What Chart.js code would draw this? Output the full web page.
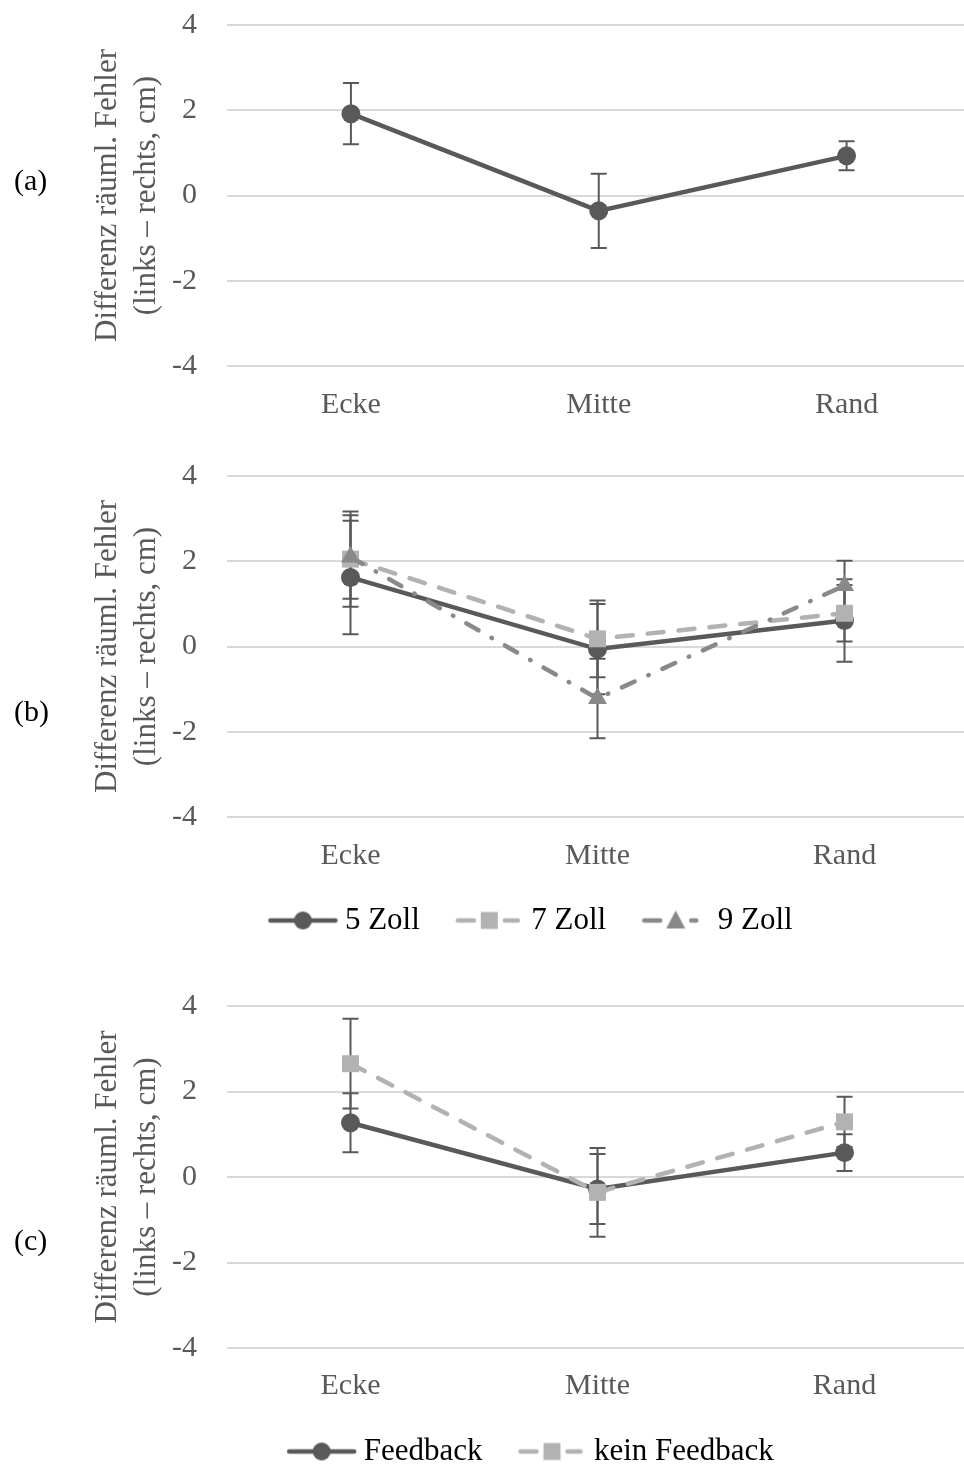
<!DOCTYPE html>
<html lang="de">
<head>
<meta charset="utf-8">
<title>Differenz räumlicher Fehler</title>
<script src="https://cdn.jsdelivr.net/npm/chart.js@4/dist/chart.umd.min.js"></script>
<style>
  html, body { margin: 0; padding: 0; background: #fff; width: 964px; height: 1466px; overflow: hidden; }
  canvas { position: absolute; left: 0; }
  .tag { position: absolute; left: 14px; font: 30px "Liberation Serif", "Times New Roman", serif; color: #000; line-height: 1; }
</style>
</head>
<body>
<canvas id="chartA" width="980" height="430" style="top:0"></canvas>
<canvas id="chartB" width="980" height="510" style="top:440px"></canvas>
<canvas id="chartC" width="980" height="510" style="top:970px"></canvas>
<div class="tag" style="top:165px">(a)</div>
<div class="tag" style="top:696px">(b)</div>
<div class="tag" style="top:1225px">(c)</div>
<script>
const categories = ["Ecke", "Mitte", "Rand"];
const yTicks = [-4, -2, 0, 2, 4];
const yTitle = ["Differenz räuml. Fehler", "(links – rechts, cm)"];

// (a) all
const allMean = [1.92, -0.36, 0.93];
const allErr = [0.72, 0.87, 0.34];

// (b) screen size
const zoll5Mean = [1.62, -0.06, 0.61];
const zoll5Err = [1.33, 1.06, 0.97];
const zoll7Mean = [2.05, 0.18, 0.78];
const zoll7Err = [1.12, 0.90, 0.66];
const zoll9Mean = [2.10, -1.22, 1.43];
const zoll9Err = [0.98, 0.93, 0.58];

// (c) feedback
const feedbackMean = [1.27, -0.28, 0.57];
const feedbackErr = [0.69, 0.82, 0.43];
const keinFeedbackMean = [2.65, -0.36, 1.29];
const keinFeedbackErr = [1.05, 1.04, 0.59];

const DARK = "#595959", LIGHT = "#b2b2b2", MID = "#898989";
const SOLID = [], DASH = [16, 15], DASHDOT = [14, 15, 0.5, 15];

Chart.defaults.font.family = '"Liberation Serif", "Times New Roman", serif';
Chart.defaults.font.size = 30;
Chart.defaults.color = DARK;

// little line+marker picture for the legend (a bit of empty room on the left)
function legendSample(color, dash, style) {
    const c = document.createElement("canvas");
    c.width = 80; c.height = 30;
    const g = c.getContext("2d");
    g.translate(8, 0);
    g.strokeStyle = color;
    g.lineWidth = 4.5;
    g.lineCap = "round";
    g.beginPath();
    if (dash.length) {
        // short dash on each side of the marker
        g.moveTo(4, 15); g.lineTo(20, 15);
        g.moveTo(51, 15); g.lineTo(dash.length > 2 ? 56 : 64, 15);
    } else {
        g.moveTo(3, 15); g.lineTo(68, 15);
    }
    g.stroke();
    g.fillStyle = color;
    g.beginPath();
    if (style === "circle") g.arc(35.5, 15, 9, 0, Math.PI * 2);
    else if (style === "rect") g.rect(27, 6.5, 17, 17);
    else { g.moveTo(35.5, 5); g.lineTo(45, 23); g.lineTo(26, 23); g.closePath(); }
    g.fill();
    return c;
}

function series(label, mean, err, color, dash, style, order) {
    return {
        label: label,
        data: mean,
        errors: err,
        borderColor: color,
        backgroundColor: color,
        borderWidth: 4.5,
        borderDash: dash,
        borderCapStyle: "round",
        pointStyle: style,
        pointRadius: style === "rect" ? 12 : (style === "triangle" ? 11 : 9.5),
        pointBackgroundColor: color,
        pointBorderWidth: 0,
        tension: 0,
        order: order,
        sample: legendSample(color, dash, style)
    };
}

// error bars drawn under the lines and markers
const errorBars = {
    id: "errorBars",
    beforeDatasetsDraw(chart) {
        const ctx = chart.ctx, y = chart.scales.y;
        ctx.save();
        ctx.strokeStyle = DARK;
        ctx.lineWidth = 2;
        chart.data.datasets.forEach((ds, i) => {
            chart.getDatasetMeta(i).data.forEach((pt, j) => {
                const top = y.getPixelForValue(ds.data[j] + ds.errors[j]);
                const bot = y.getPixelForValue(ds.data[j] - ds.errors[j]);
                ctx.beginPath();
                ctx.moveTo(pt.x, top); ctx.lineTo(pt.x, bot);
                ctx.moveTo(pt.x - 8, top); ctx.lineTo(pt.x + 8, top);
                ctx.moveTo(pt.x - 8, bot); ctx.lineTo(pt.x + 8, bot);
                ctx.stroke();
            });
        });
        ctx.restore();
    }
};

function makePanel(id, datasets, showLegend, xHeight, xPad, padBottom) {
    new Chart(document.getElementById(id), {
        type: "line",
        data: { labels: categories, datasets: datasets },
        plugins: [errorBars],
        options: {
            responsive: false,
            animation: false,
            layout: { padding: { left: 88, right: 6, top: showLegend ? 36 : 25, bottom: padBottom } },
            plugins: {
                tooltip: { enabled: false },
                legend: {
                    display: showLegend,
                    position: "bottom",
                    labels: {
                        usePointStyle: true,
                        pointStyleWidth: 60,
                        padding: 36,
                        color: DARK,
                        font: { size: 31 },
                        generateLabels: chart => chart.data.datasets.map((ds, i) => ({
                            text: ds.label,
                            pointStyle: ds.sample,
                            fillStyle: ds.borderColor,
                            strokeStyle: ds.borderColor,
                            lineWidth: 0,
                            hidden: false,
                            datasetIndex: i
                        }))
                    }
                }
            },
            scales: {
                x: {
                    offset: true,
                    grid: { display: false, drawTicks: false },
                    border: { display: false },
                    ticks: { padding: xPad },
                    afterFit: s => { s.height = xHeight; s.paddingLeft = 0; s.paddingRight = 0; }
                },
                y: {
                    min: -4, max: 4,
                    afterBuildTicks: s => { s.ticks = yTicks.map(v => ({ value: v })); },
                    grid: { color: "#d9d9d9", lineWidth: 2, drawTicks: false },
                    border: { display: false },
                    ticks: { padding: 30 },
                    title: { display: true, text: yTitle, font: { size: 31, lineHeight: 1.26 }, padding: { top: 0, bottom: 0 } },
                    afterFit: s => { s.width = 139; s.paddingTop = 0; s.paddingBottom = 0; }
                }
            }
        }
    });
}

makePanel("chartA", [
    series("gesamt", allMean, allErr, DARK, SOLID, "circle", 1)
], false, 60, 21, 4);

makePanel("chartB", [
    series("5 Zoll", zoll5Mean, zoll5Err, DARK, SOLID, "circle", 3),
    series("7 Zoll", zoll7Mean, zoll7Err, LIGHT, DASH, "rect", 2),
    series("9 Zoll", zoll9Mean, zoll9Err, MID, DASHDOT, "triangle", 1)
], true, 52, 21, 4);

makePanel("chartC", [
    series("Feedback", feedbackMean, feedbackErr, DARK, SOLID, "circle", 2),
    series("kein Feedback", keinFeedbackMean, keinFeedbackErr, LIGHT, DASH, "rect", 1)
], true, 52, 20, 3);
</script>
</body>
</html>
